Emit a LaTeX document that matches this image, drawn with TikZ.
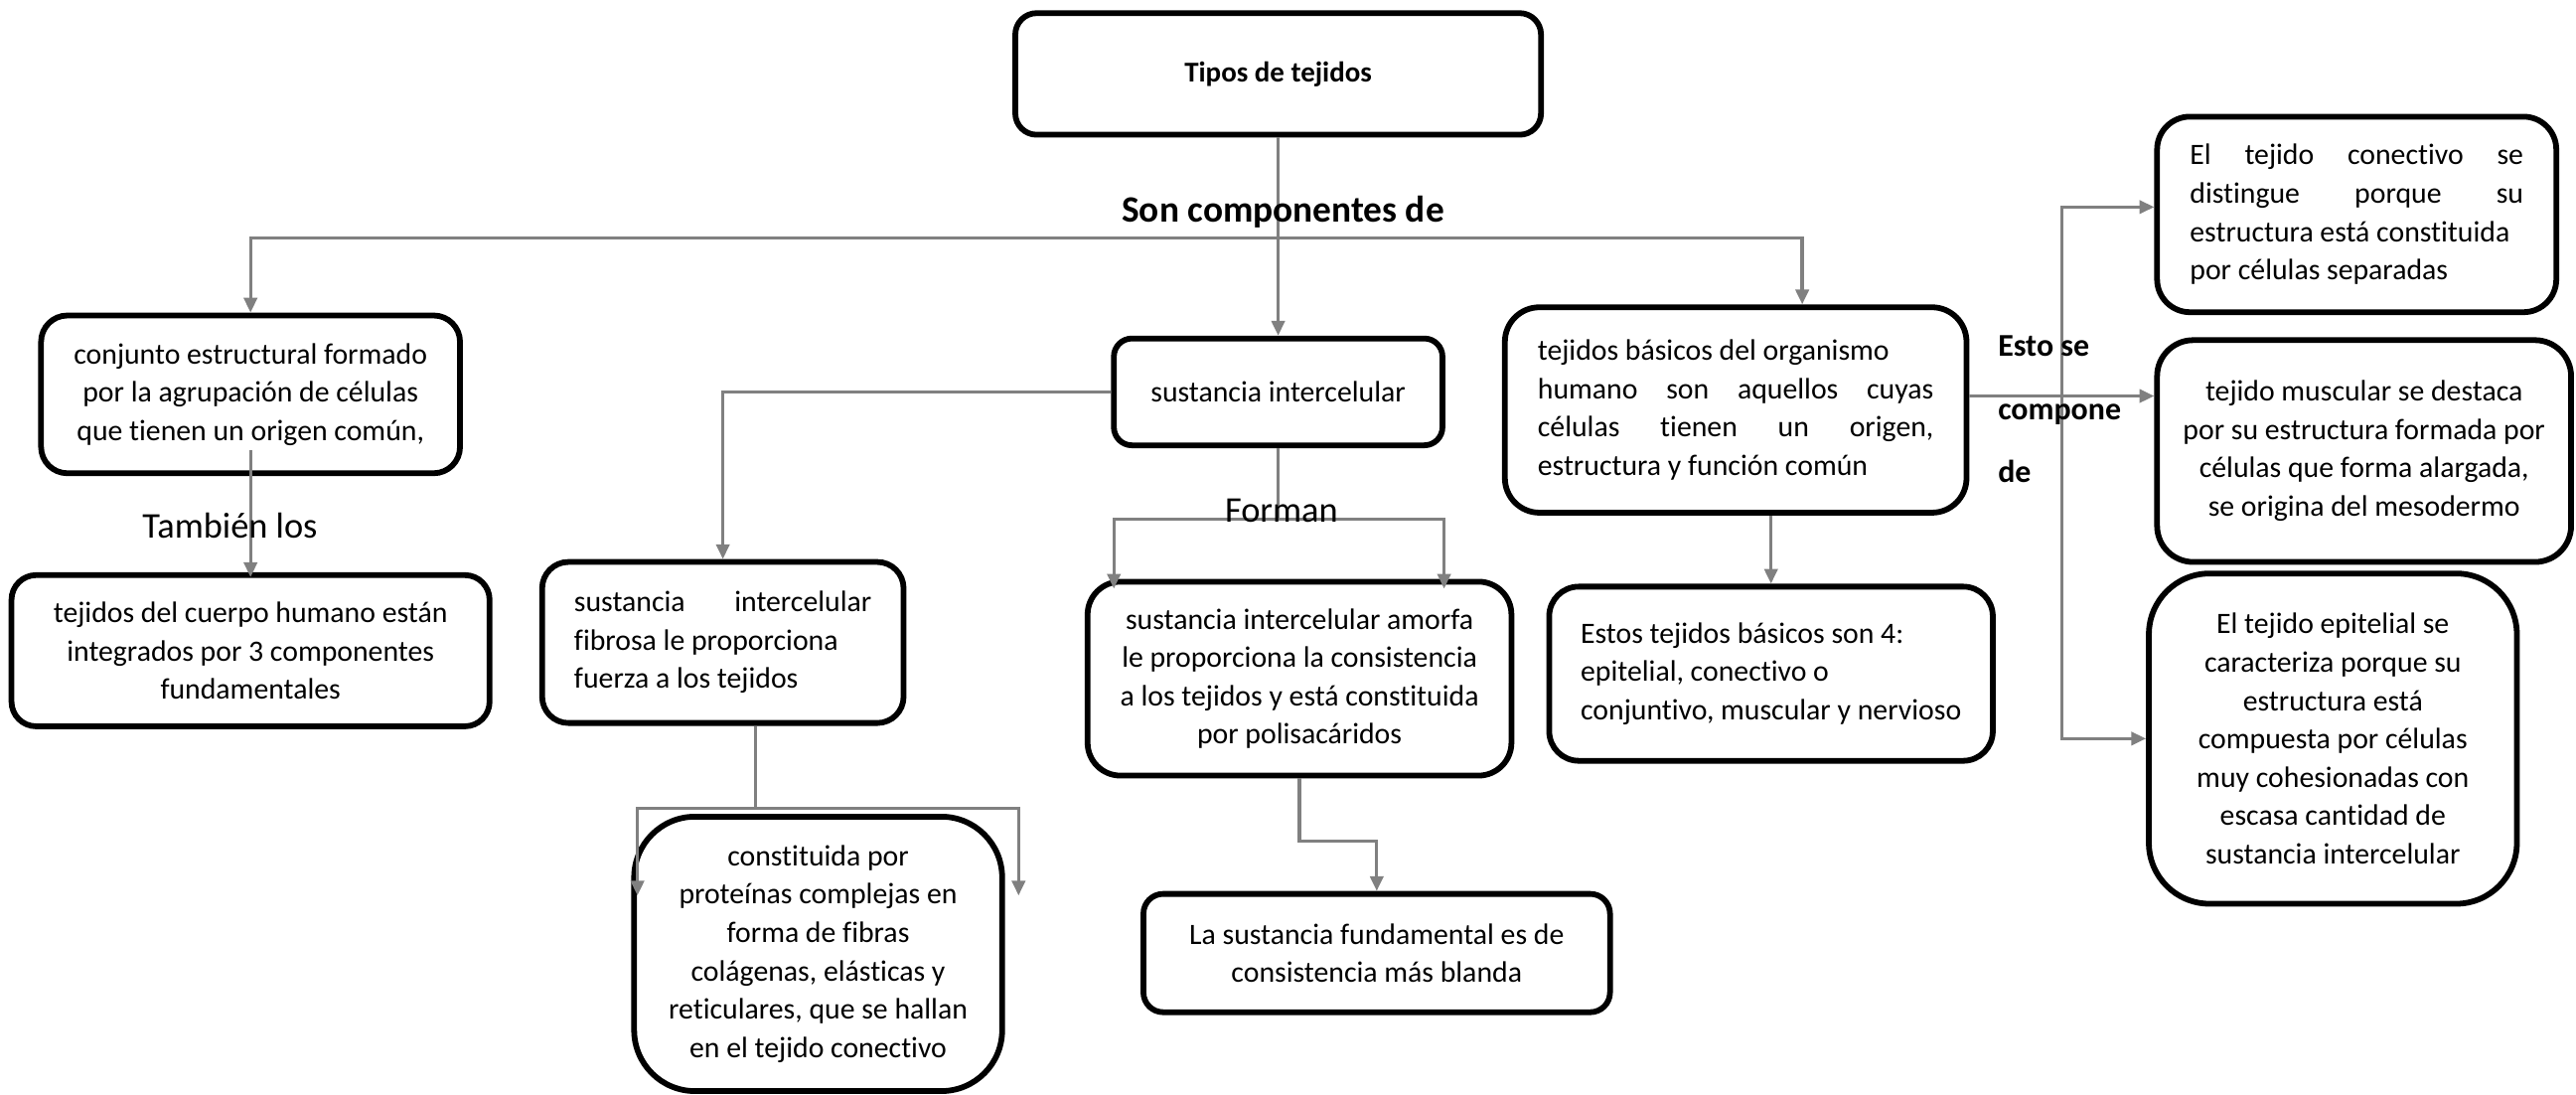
\documentclass[tikz,border=0pt]{standalone}
\usepackage{fontspec}
\setmainfont{Carlito}[Ligatures=NoCommon]
\usetikzlibrary{arrows.meta}
\begin{document}
\begin{tikzpicture}[x=1pt,y=-1pt,
  box/.style={draw=black, line width=3.5pt, inner sep=0pt, font=\fontsize{18}{23.3}\selectfont},
  conn/.style={draw=gray, line width=2pt, -{Triangle[length=9pt,width=8pt]}},
  plainln/.style={draw=gray, line width=2pt},
  lbl/.style={inner sep=0pt, font=\fontsize{22}{26}\selectfont},
  lblb/.style={inner sep=0pt, font=\bfseries\fontsize{19.3}{38.5}\selectfont, align=left},
]
\useasboundingbox (0,0) rectangle (1568,666);

% boxes
\node[box, minimum width=320pt, minimum height=74pt, rounded corners=13pt,
      font=\bfseries\fontsize{17.5}{21}\selectfont] (tipos) at (778,45) {Tipos de tejidos};
\node[box, minimum width=255pt, minimum height=96pt, rounded corners=16pt, align=center]
  (conj) at (152.5,240) {conjunto estructural formado\\por la agrupación de células\\que tienen un origen común,};
\node[box, minimum width=291pt, minimum height=92pt, rounded corners=15pt, align=center]
  (tcuerpo) at (152.5,396) {tejidos del cuerpo humano están\\integrados por 3 componentes\\fundamentales};
\node[box, minimum width=200pt, minimum height=65pt, rounded corners=11pt]
  (sust) at (778,238.5) {sustancia intercelular};
\node[box, minimum width=220pt, minimum height=98pt, rounded corners=16pt, align=left]
  (fib) at (440,391) {\makebox[181pt][s]{sustancia intercelular}\\fibrosa le proporciona\\fuerza a los tejidos};
\node[box, minimum width=224pt, minimum height=167pt, rounded corners=37pt, align=center]
  (cons) at (498,580.5) {constituida por\\proteínas complejas en\\forma de fibras\\colágenas, elásticas y\\reticulares, que se hallan\\en el tejido conectivo};
\node[box, minimum width=258pt, minimum height=118pt, rounded corners=20pt, align=center]
  (amo) at (791,413) {sustancia intercelular amorfa\\le proporciona la consistencia\\a los tejidos y está constituida\\por polisacáridos};
\node[box, minimum width=284pt, minimum height=72pt, rounded corners=12pt, align=center]
  (las) at (838,580) {La sustancia fundamental es de\\consistencia más blanda};
\node[box, minimum width=281pt, minimum height=125pt, rounded corners=21pt, align=left]
  (tbas) at (1056.5,249.5) {tejidos básicos del organismo\\\makebox[241pt][s]{humano son aquellos cuyas}\\\makebox[241pt][s]{células tienen un origen,}\\estructura y función común};
\node[box, minimum width=270pt, minimum height=106pt, rounded corners=18pt, align=left]
  (estos) at (1078,410) {Estos tejidos básicos son 4:\\epitelial, conectivo o\\conjuntivo, muscular y nervioso};
\node[box, minimum width=243pt, minimum height=119pt, rounded corners=20pt, align=left]
  (conec) at (1434.5,130.5) {\makebox[203pt][s]{El tejido conectivo se}\\\makebox[203pt][s]{distingue porque su}\\estructura está constituida\\por células separadas};
\node[box, minimum width=252pt, minimum height=135pt, rounded corners=22pt, align=center]
  (musc) at (1439,274.5) {tejido muscular se destaca\\por su estructura formada por\\células que forma alargada,\\se origina del mesodermo};
\node[box, minimum width=224pt, minimum height=201pt, rounded corners=37pt, align=center]
  (epi) at (1420,449.5) {El tejido epitelial se\\caracteriza porque su\\estructura está\\compuesta por células\\muy cohesionadas con\\escasa cantidad de\\sustancia intercelular};

% branch points
\coordinate (b1) at (778,145);
\coordinate (b2) at (778,316);
\coordinate (b3) at (460,492);
\coordinate (b4) at (1255,241);
\coordinate (e1) at (388,545);
\coordinate (e2) at (620,545);

% connectors
\draw[conn] (tipos.south) -- (sust.north);
\draw[conn] (b1) -| (conj.north);
\draw[conn] (b1) -| ([xshift=40.5pt]tbas.north);
\draw[conn, shorten >=-3pt] ([yshift=16pt]conj.south) -- (tcuerpo.north);
\draw[conn] (sust.west) -| (fib.north);
\draw[plainln] (sust.south) -- (b2);
\draw[conn, shorten >=-6pt] (b2) -| ([xshift=-113pt]amo.north);
\draw[conn, shorten >=-6pt] (b2) -| ([xshift=88pt]amo.north);
\draw[plainln] ([xshift=20pt]fib.south) -- (b3);
\draw[conn] (b3) -| (e1);
\draw[conn] (b3) -| (e2);
\draw[conn] (amo.south) -- ++(0,38) -| (las.north);
\draw[conn] (tbas.south -| estos.north) -- (estos.north);
\draw[conn] ([yshift=8.5pt]tbas.east) -- (musc.west |- b4);
\draw[conn] (b4) |- ([yshift=4.5pt]conec.west);
\draw[conn] (b4) |- (epi.west);

% labels
\node[lbl, font=\bfseries\fontsize{22.6}{26}\selectfont] (lsoncomp) at (781,129) {Son componentes de};
\node[lbl] (ltambien) at (140,320) {También los};
\node[lbl] (lforman) at (780,311) {Forman};
\node[lblb, anchor=west] (lesto) at (1216,249) {Esto se\\compone\\de};
\end{tikzpicture}
\end{document}
